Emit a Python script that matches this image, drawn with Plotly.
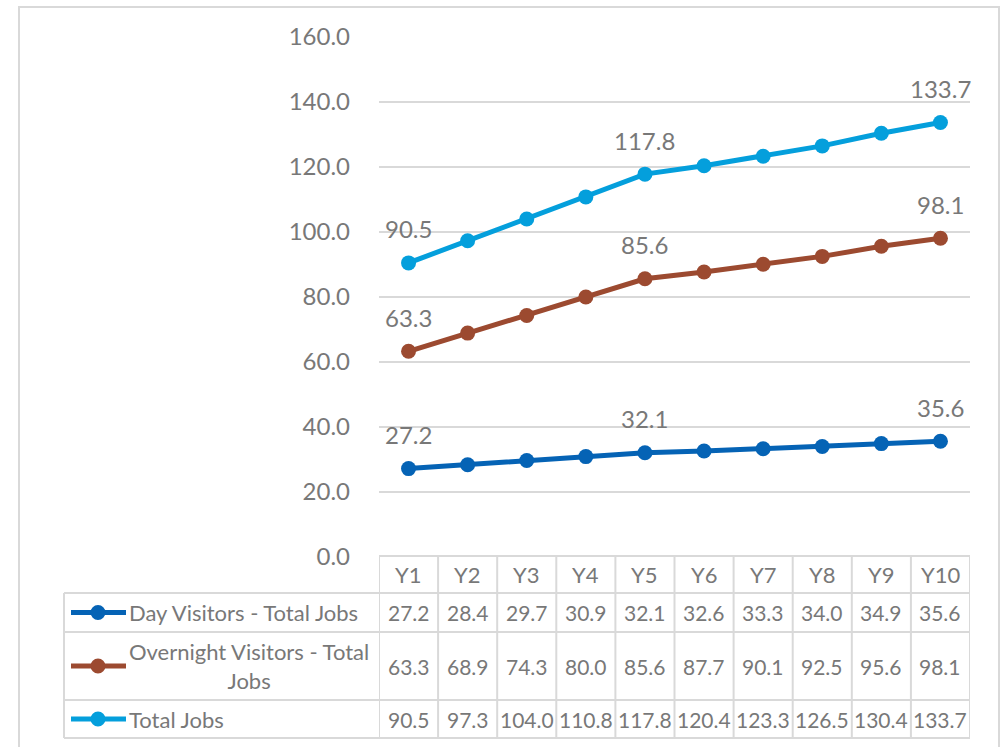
import plotly.graph_objects as go

# ---- data ----
years = ["Y1", "Y2", "Y3", "Y4", "Y5", "Y6", "Y7", "Y8", "Y9", "Y10"]
day_jobs = [27.2, 28.4, 29.7, 30.9, 32.1, 32.6, 33.3, 34.0, 34.9, 35.6]
overnight_jobs = [63.3, 68.9, 74.3, 80.0, 85.6, 87.7, 90.1, 92.5, 95.6, 98.1]
total_jobs = [90.5, 97.3, 104.0, 110.8, 117.8, 120.4, 123.3, 126.5, 130.4, 133.7]
series_names = ["Day Visitors - Total Jobs",
                "Overnight Visitors - Total<br>Jobs",
                "Total Jobs"]
y_ticks = [0, 20, 40, 60, 80, 100, 120, 140, 160]
labelled_points = [0, 4, 9]

# ---- style ----
colors = ["#0563b5", "#9c4a30", "#049fdc"]
text_color = "#787878"
grid_color = "#d9d9d9"
font_family = "Lato, 'Open Sans', sans-serif"

W, H = 1002, 747
L, R, T, B = 379, 32, 37, 190      # plot area in pixels
PW, PH = W - L - R, H - T - B


def py(ypx):
    """pixel row -> paper y"""
    return (H - B - ypx) / PH


def px(xpx):
    """pixel column -> paper x"""
    return (xpx - L) / PW


series = [day_jobs, overnight_jobs, total_jobs]

fig = go.Figure()
for name, vals, col in zip(series_names, series, colors):
    fig.add_trace(go.Scatter(
        x=years, y=vals, mode="lines+markers", name=name.replace("<br>", " "),
        line=dict(color=col, width=5),
        marker=dict(color=col, size=15),
        showlegend=False, hoverinfo="x+y",
    ))

annotations = []
# data labels above selected points
for vals in series:
    for i in labelled_points:
        annotations.append(dict(
            x=years[i], y=vals[i], xref="x", yref="y",
            text=f"{vals[i]:.1f}", showarrow=False, yshift=34,
            xanchor="center", yanchor="middle",
            font=dict(size=24, color=text_color, family=font_family)))

# ---- data table under the axis ----
row_edges = [556, 593, 632, 700, 738]   # pixel rows
row_centers = [(row_edges[k] + row_edges[k + 1]) / 2 for k in range(4)]
legend_left = 64
shapes = []
line_style = dict(color=grid_color, width=2)

# header cells
for i, yr in enumerate(years):
    annotations.append(dict(
        x=i, y=py(row_centers[0]), xref="x", yref="paper", text=yr,
        xanchor="center", yanchor="middle", showarrow=False,
        font=dict(size=22, color=text_color, family=font_family)))
# value cells
for r, vals in enumerate(series):
    for i, v in enumerate(vals):
        annotations.append(dict(
            x=i, y=py(row_centers[r + 1]), xref="x", yref="paper",
            text=f"{v:.1f}", showarrow=False,
            xanchor="center", yanchor="middle",
            font=dict(size=21, color=text_color, family=font_family)))
    # series label and legend key
    annotations.append(dict(
        x=px(127), y=py(row_centers[r + 1]), xref="paper", yref="paper",
        xanchor="left", yanchor="middle", align="center",
        text=series_names[r], showarrow=False,
        font=dict(size=22, color=text_color, family=font_family)))
    yk = py(row_centers[r + 1])
    shapes.append(dict(type="line", xref="paper", yref="paper",
                       x0=px(71), x1=px(126), y0=yk, y1=yk,
                       line=dict(color=colors[r], width=5)))
    shapes.append(dict(type="circle", xref="paper", yref="paper",
                       xsizemode="pixel", ysizemode="pixel",
                       xanchor=px(98), yanchor=yk,
                       x0=-7.5, x1=7.5, y0=-7.5, y1=7.5,
                       fillcolor=colors[r], line=dict(width=0)))

# table grid lines
shapes.append(dict(type="line", xref="x", yref="paper", x0=-0.5, x1=len(years) - 0.5,
                   y0=py(row_edges[0]), y1=py(row_edges[0]), line=line_style))
for ye in row_edges[1:]:
    shapes.append(dict(type="line", xref="paper", yref="paper",
                       x0=px(legend_left), x1=1, y0=py(ye), y1=py(ye), line=line_style))
for i in range(len(years) + 1):
    shapes.append(dict(type="line", xref="x", yref="paper", x0=i - 0.5, x1=i - 0.5,
                       y0=py(row_edges[0]), y1=py(row_edges[-1]), line=line_style))
shapes.append(dict(type="line", xref="paper", yref="paper",
                   x0=px(legend_left), x1=px(legend_left),
                   y0=py(row_edges[1]), y1=py(row_edges[-1]), line=line_style))

# outer chart frame
shapes.append(dict(type="rect", xref="paper", yref="paper",
                   x0=px(19), x1=px(999), y0=py(7), y1=py(760),
                   line=dict(color=grid_color, width=2), layer="below"))

fig.update_layout(
    width=W, height=H,
    margin=dict(l=L, r=R, t=T, b=B, pad=0),
    paper_bgcolor="white", plot_bgcolor="white",
    font=dict(family=font_family, color=text_color),
    xaxis=dict(type="category", range=[-0.5, len(years) - 0.5],
               showgrid=False, showticklabels=False, ticks="",
               zeroline=False, showline=False, fixedrange=True),
    yaxis=dict(range=[0, 160], tickvals=y_ticks,
               ticktext=[f"{t:.1f}" for t in y_ticks],
               tickfont=dict(size=24, color=text_color, family=font_family),
               showgrid=True, gridcolor=grid_color, gridwidth=2,
               zeroline=False, showline=False, ticks="", ticklabelstandoff=28,
               fixedrange=True),
    annotations=annotations, shapes=shapes,
)

fig.write_html("out.html")
